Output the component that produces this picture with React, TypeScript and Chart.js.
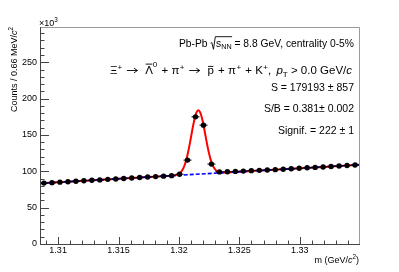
import React, { useEffect, useRef } from "react";
import { Chart, registerables } from "chart.js";

Chart.register(...registerables);

// ---------- data (counts in units of 10^3) ----------
const binCenters = [
  1.30883, 1.30949, 1.31015, 1.31081, 1.31147, 1.31213, 1.31279, 1.31345, 1.31411, 1.31477,
  1.31543, 1.31609, 1.31675, 1.31741, 1.31807, 1.31873, 1.31939, 1.32005, 1.32071, 1.32137,
  1.32203, 1.32269, 1.32335, 1.32401, 1.32467, 1.32533, 1.32599, 1.32665, 1.32731, 1.32797,
  1.32863, 1.32929, 1.32995, 1.33061, 1.33127, 1.33193, 1.33259, 1.33325, 1.33391, 1.33457,
];
const counts = [
  83.8, 84.4, 85.1, 85.7, 86.3, 87.0, 87.6, 88.2, 88.9, 89.5,
  90.2, 90.8, 91.4, 92.1, 92.7, 93.3, 94.0, 96.0, 115.4, 174.9,
  163.5, 109.9, 99.2, 99.3, 99.9, 100.3, 100.9, 101.3, 101.8, 102.3,
  102.9, 103.5, 104.1, 104.8, 105.4, 106.0, 106.7, 107.3, 107.9, 108.6,
];
// fit (gaussian + linear background)
const fitX = [
  1.3085, 1.3175, 1.3185, 1.319, 1.3193, 1.319615, 1.319946, 1.320111, 1.320277, 1.320442,
  1.320608, 1.320773, 1.320939, 1.321104, 1.32127, 1.321435, 1.321601, 1.321767, 1.321932,
  1.322098, 1.322263, 1.322429, 1.322594, 1.32276, 1.322925, 1.323091, 1.323256, 1.323587,
  1.324, 1.325, 1.326, 1.3349,
];
const fitY = [
  83.5, 92.2, 93.1, 93.6, 93.9, 94.5, 96.1, 98.1, 101.5, 107.3,
  115.8, 127.5, 141.7, 156.9, 170.7, 180.4, 184.1, 180.8, 171.3,
  157.9, 142.9, 129.1, 117.8, 109.5, 104.1, 100.9, 99.3, 98.3,
  98.4, 99.4, 100.3, 108.9,
];
const bkgX = [1.3085, 1.3349];
const bkgY = [83.5, 108.9];

const xMin = 1.3085;
const xMax = 1.3349;
const yMin = 0;
const yMax = 298.5;
const xTicks = [1.31, 1.315, 1.32, 1.325, 1.33];
const xTickLabels = ["1.31", "1.315", "1.32", "1.325", "1.33"];
const yTicks = [0, 50, 100, 150, 200, 250];
const yTickLabels = ["0", "50", "100", "150", "200", "250"];

const FONT = '"Liberation Sans", Arial, Helvetica, sans-serif';

type Seg = {
  t?: string;
  s?: number;
  dy?: number;
  it?: boolean;
  ov?: number;
  rad?: "open" | "close";
  arrow?: boolean;
  g?: number;
};

const sup = (t: string, dy = -0.38, g = 0): Seg => ({ t, s: 0.7, dy, g });
const sub = (t: string, dy = 0.22): Seg => ({ t, s: 0.7, dy });
const arrow = (): Seg[] => [{ t: " " }, { arrow: true }, { t: " ", g: 4 }];

const line1: Seg[] = [
  { t: "Pb-Pb " },
  { rad: "open" },
  { t: "s" },
  sub("NN"),
  { rad: "close" },
  { t: " = 8.8 GeV, centrality 0-5%" },
];
const line2: Seg[] = [
  { t: "\u039E" }, sup("+", -0.38, 1), ...arrow(),
  { t: "\u039B", ov: 0.86 }, sup("0", -0.62, 1),
  { t: " + \u03C0", g: 0.5 }, sup("+", -0.38, 1), ...arrow(),
  { t: "p", ov: 0.66, g: 1 },
  { t: " + \u03C0", g: 0.5 }, sup("+", -0.38, 1),
  { t: " + K", g: 0.5 }, sup("+", -0.38, 0),
  { t: ", ", g: 2 }, { t: "p", it: true }, sub("T", 0.25),
  { t: " > 0.0 GeV/" }, { t: "c", it: true },
];
const line3: Seg[] = [{ t: "S = 179193 \u00B1 857" }];
const line4: Seg[] = [{ t: "S/B = 0.381\u00B1 0.002" }];
const line5: Seg[] = [{ t: "Signif. = 222 \u00B1 1" }];
const yTitle: Seg[] = [{ t: "Counts / 0.66 MeV/" }, { t: "c", it: true }, sup("2", -0.4)];
const xTitle: Seg[] = [{ t: "m (GeV/" }, { t: "c", it: true }, sup("2", -0.4), { t: ")" }];
const expLabel: Seg[] = [{ t: "\u00D710" }, sup("3", -0.4)];

function segFont(seg: Seg, fs: number) {
  return `${seg.it ? "italic " : ""}${(fs * (seg.s ?? 1)).toFixed(2)}px ${FONT}`;
}

function richWidth(ctx: CanvasRenderingContext2D, segs: Seg[], fs: number) {
  let w = 0;
  for (const s of segs) {
    if (s.rad === "open") w += fs * 0.55;
    else if (s.arrow) w += fs * 1.0;
    else if (s.t) {
      ctx.font = segFont(s, fs);
      w += ctx.measureText(s.t).width;
    }
    w += s.g ?? 0;
  }
  return w;
}

function drawRich(
  ctx: CanvasRenderingContext2D,
  segs: Seg[],
  fs: number,
  xPos: number,
  base: number,
  align: "left" | "right",
  color = "#000"
) {
  let x = align === "right" ? xPos - richWidth(ctx, segs, fs) : xPos;
  let radStart = 0;
  ctx.save();
  ctx.fillStyle = color;
  ctx.strokeStyle = color;
  ctx.lineWidth = 0.9;
  ctx.textBaseline = "alphabetic";
  ctx.textAlign = "left";
  for (const s of segs) {
    if (s.rad === "open") {
      ctx.beginPath();
      ctx.moveTo(x + 0.02 * fs, base - 0.36 * fs);
      ctx.lineTo(x + 0.14 * fs, base - 0.43 * fs);
      ctx.lineTo(x + 0.3 * fs, base + 0.22 * fs);
      ctx.lineTo(x + 0.48 * fs, base - 1.0 * fs);
      ctx.stroke();
      radStart = x + 0.48 * fs;
      x += fs * 0.55;
    } else if (s.rad === "close") {
      ctx.beginPath();
      ctx.moveTo(radStart, base - 1.0 * fs);
      ctx.lineTo(x + 0.5, base - 1.0 * fs);
      ctx.stroke();
    } else if (s.arrow) {
      const w = fs * 1.0;
      const y = Math.round(base - 0.33 * fs) + 0.5;
      ctx.beginPath();
      ctx.moveTo(x + 0.5, y);
      ctx.lineTo(x + w - 0.5, y);
      ctx.moveTo(x + w - 0.5 - 0.3 * fs, y - 0.2 * fs);
      ctx.lineTo(x + w - 0.5, y);
      ctx.lineTo(x + w - 0.5 - 0.3 * fs, y + 0.2 * fs);
      ctx.stroke();
      x += w;
    } else if (s.t) {
      ctx.font = segFont(s, fs);
      const w = ctx.measureText(s.t).width;
      ctx.fillText(s.t, x, base + (s.dy ?? 0) * fs);
      if (s.ov) {
        ctx.beginPath();
        ctx.moveTo(x + 0.5, base - s.ov * fs);
        ctx.lineTo(x + w - 0.5, base - s.ov * fs);
        ctx.stroke();
      }
      x += w;
    }
    x += s.g ?? 0;
  }
  ctx.restore();
}

const decorPlugin = {
  id: "rootDecor",
  afterDraw(chart: any) {
    const ctx: CanvasRenderingContext2D = chart.ctx;
    const { left, top, right, bottom } = chart.chartArea;
    const xs = chart.scales.x;
    const ys = chart.scales.y;
    ctx.save();
    // frame (top/right light) and axes (left/bottom dark)
    ctx.lineWidth = 1;
    ctx.strokeStyle = "#9a9a9a";
    ctx.beginPath();
    ctx.moveTo(left, Math.round(top) + 0.5);
    ctx.lineTo(Math.round(right) + 0.5, Math.round(top) + 0.5);
    ctx.lineTo(Math.round(right) + 0.5, Math.round(bottom));
    ctx.stroke();
    ctx.strokeStyle = "#444";
    ctx.beginPath();
    ctx.moveTo(Math.round(left) + 0.5, Math.round(top));
    ctx.lineTo(Math.round(left) + 0.5, Math.round(bottom) + 0.5);
    ctx.lineTo(Math.round(right) + 1, Math.round(bottom) + 0.5);
    ctx.stroke();
    // y ticks (inside)
    ctx.beginPath();
    for (let v = 0; v <= yMax; v += 10) {
      const py = Math.round(ys.getPixelForValue(v)) + 0.5;
      const len = v % 50 === 0 ? 9 : 4.5;
      ctx.moveTo(left, py);
      ctx.lineTo(left + len, py);
    }
    // x ticks (inside)
    for (let k = 1309; k <= 1334; k++) {
      const px = Math.round(xs.getPixelForValue(k / 1000)) + 0.5;
      const len = k % 5 === 0 ? 7 : 3.5;
      ctx.moveTo(px, bottom);
      ctx.lineTo(px, bottom - len);
    }
    ctx.stroke();
    ctx.restore();

    // text block
    const fs = 10.5;
    const xr = 354;
    drawRich(ctx, line1, 10.3, xr, 47, "right");
    drawRich(ctx, line2, 11.5, xr - 2, 74, "right");
    drawRich(ctx, line3, fs, xr, 91, "right");
    drawRich(ctx, line4, fs, xr, 112, "right");
    drawRich(ctx, line5, fs, xr, 134, "right");

    // exponent
    drawRich(ctx, expLabel, 9, 39, 26, "left");
    // x title
    drawRich(ctx, xTitle, 9, 359, 263, "right");
    // y title (rotated)
    ctx.save();
    ctx.translate(17, 27);
    ctx.rotate(-Math.PI / 2);
    drawRich(ctx, yTitle, 9, 0, 0, "right");
    ctx.restore();
  },
};

export default function App() {
  const ref = useRef<HTMLCanvasElement | null>(null);
  useEffect(() => {
    if (!ref.current) return;
    const pts = binCenters.map((x, i) => ({ x, y: counts[i] }));
    const chart = new Chart(ref.current, {
      type: "scatter",
      data: {
        datasets: [
          {
            label: "data",
            data: pts,
            showLine: false,
            pointStyle: "circle",
            pointRadius: 2.7,
            pointBackgroundColor: "#000",
            pointBorderWidth: 0,
          } as any,
          {
            label: "xerr",
            data: pts,
            showLine: false,
            pointStyle: "line",
            pointRadius: 4,
            pointBorderColor: "#000",
            pointBorderWidth: 1,
          } as any,
          {
            label: "bkg",
            data: bkgX.map((x, i) => ({ x, y: bkgY[i] })),
            showLine: true,
            borderColor: "#0000ff",
            borderWidth: 1.6,
            borderDash: [4, 2],
            pointRadius: 0,
          } as any,
          {
            label: "fit",
            data: fitX.map((x, i) => ({ x, y: fitY[i] })),
            showLine: true,
            borderColor: "#ff0000",
            borderWidth: 2,
            cubicInterpolationMode: "monotone",
            pointRadius: 0,
          } as any,
        ],
      },
      options: {
        animation: false,
        responsive: false,
        devicePixelRatio: 1,
        layout: { padding: { top: 27, right: 40, left: 0, bottom: 0 } },
        plugins: { legend: { display: false }, tooltip: { enabled: false } },
        events: [],
        scales: {
          x: {
            type: "linear",
            min: xMin,
            max: xMax,
            afterBuildTicks: (s: any) => {
              s.ticks = xTicks.map((v) => ({ value: v }));
            },
            afterFit: (s: any) => {
              s.height = 28;
            },
            ticks: {
              autoSkip: false,
              maxRotation: 0,
              padding: 1,
              color: "#000",
              font: { family: FONT, size: 9 },
              callback: (v: any) => xTickLabels[xTicks.indexOf(Number(v))] ?? "",
            },
            grid: { display: false, drawTicks: false },
            border: { display: false },
          },
          y: {
            type: "linear",
            min: yMin,
            max: yMax,
            afterBuildTicks: (s: any) => {
              s.ticks = yTicks.map((v) => ({ value: v }));
            },
            afterFit: (s: any) => {
              s.width = 40;
            },
            ticks: {
              autoSkip: false,
              padding: 3,
              color: "#000",
              font: { family: FONT, size: 9 },
              callback: (v: any) => yTickLabels[yTicks.indexOf(Number(v))] ?? "",
            },
            grid: { display: false, drawTicks: false },
            border: { display: false },
          },
        },
      } as any,
      plugins: [decorPlugin],
    });
    return () => chart.destroy();
  }, []);
  return (
    <div style={{ position: "fixed", left: 0, top: 0, width: 399, height: 272, background: "#fff" }}>
      <canvas ref={ref} width={399} height={272} style={{ width: 399, height: 272, display: "block" }} />
    </div>
  );
}
